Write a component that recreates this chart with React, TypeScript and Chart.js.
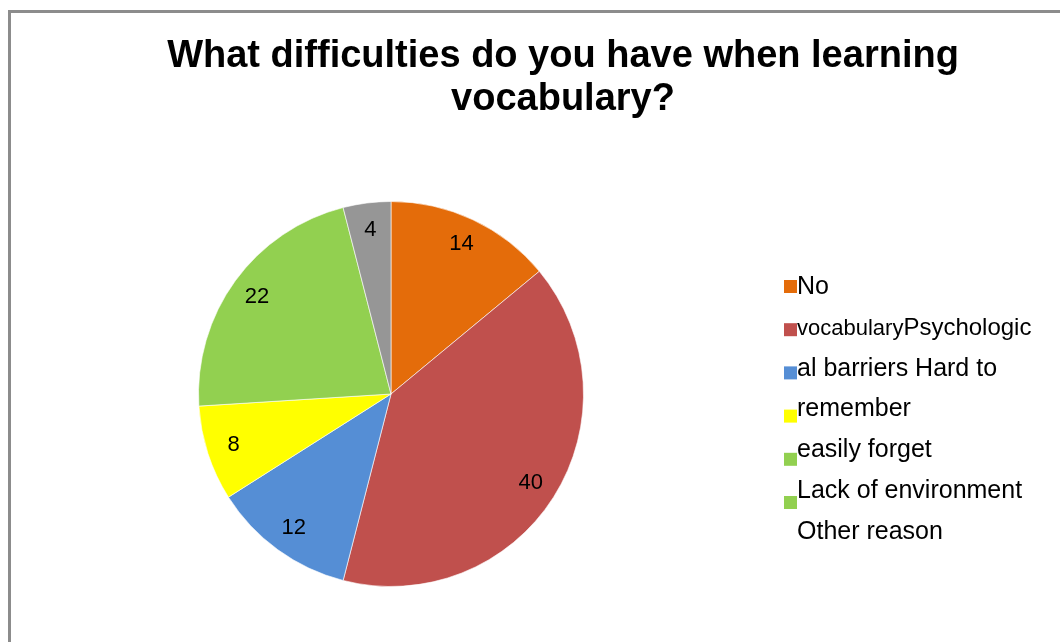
import React, { useEffect, useRef } from "react";
import { Chart, registerables } from "chart.js";

Chart.register(...registerables);

const titleLines = ["What difficulties do you have when learning", "vocabulary?"];
const sliceValues = [14, 40, 12, 8, 22, 4];
const sliceColors = ["#E46C0A", "#C0504D", "#558ED5", "#FFFF00", "#92D050", "#969696"];
const legendLabels = [
  "No",
  "vocabularyPsychologic",
  "al barriers Hard to",
  "remember",
  "easily forget",
  "Lack of environment",
  "Other reason",
];
const legendColors = ["#E46C0A", "#C0504D", "#558ED5", "#FFFF00", "#92D050", "#92D050"];

const FONT = "'Liberation Sans', Arial, sans-serif";

const decorPlugin = {
  id: "decor",
  afterDraw(chart: any) {
    const ctx = chart.ctx;
    ctx.save();
    // title
    ctx.fillStyle = "#000";
    ctx.font = `bold 38px ${FONT}`;
    ctx.textAlign = "center";
    ctx.textBaseline = "alphabetic";
    titleLines.forEach((t, i) => ctx.fillText(t, 563, 67 + i * 43));

    // data labels
    const meta = chart.getDatasetMeta(0);
    ctx.font = `22px ${FONT}`;
    ctx.textBaseline = "middle";
    meta.data.forEach((arc: any, i: number) => {
      const p = arc.getProps(["x", "y", "startAngle", "endAngle", "outerRadius"], true);
      const mid = (p.startAngle + p.endAngle) / 2;
      const r = p.outerRadius * 0.86;
      ctx.fillText(String(sliceValues[i]), p.x + Math.cos(mid) * r, p.y + Math.sin(mid) * r);
    });

    // legend
    ctx.textAlign = "left";
    legendColors.forEach((c, i) => {
      ctx.fillStyle = c;
      ctx.fillRect(784, 280 + i * 43.2, 13, 13);
    });
    ctx.fillStyle = "#000";
    ctx.textBaseline = "alphabetic";
    legendLabels.forEach((t, i) => {
      const base = 294 + i * 40.8;
      if (t.startsWith("vocabulary") && t.length > 10) {
        const head = "vocabulary";
        ctx.font = `22px ${FONT}`;
        ctx.fillText(head, 797, base);
        const w = ctx.measureText(head).width;
        ctx.font = `24px ${FONT}`;
        ctx.fillText(t.slice(head.length), 797 + w, base);
      } else {
        ctx.font = `25px ${FONT}`;
        ctx.fillText(t, 797, base);
      }
    });
    ctx.restore();
  },
};

export default function App() {
  const ref = useRef<HTMLCanvasElement>(null);
  useEffect(() => {
    if (!ref.current) return;
    const chart = new Chart(ref.current, {
      type: "pie",
      data: {
        labels: legendLabels.slice(0, 6),
        datasets: [
          {
            data: sliceValues,
            backgroundColor: sliceColors,
            borderColor: "rgba(255,255,255,0.6)",
            borderWidth: 1,
          },
        ],
      },
      options: {
        responsive: false,
        animation: false,
        layout: { padding: { left: 198, right: 476, top: 201, bottom: 55 } },
        plugins: {
          legend: { display: false },
          title: { display: false },
          tooltip: { enabled: false },
        },
      },
      plugins: [decorPlugin],
    });
    return () => chart.destroy();
  }, []);
  return (
    <div style={{ position: "fixed", left: 0, top: 0, width: 1060, height: 642, background: "#fff", overflow: "hidden" }}>
      <div
        style={{
          position: "absolute",
          left: 8,
          top: 10,
          width: 1100,
          height: 700,
          borderTop: "3px solid #8c8c8c",
          borderLeft: "3px solid #8c8c8c",
        }}
      />
      <canvas ref={ref} width={1060} height={642} style={{ position: "absolute", left: 0, top: 0 }} />
    </div>
  );
}
